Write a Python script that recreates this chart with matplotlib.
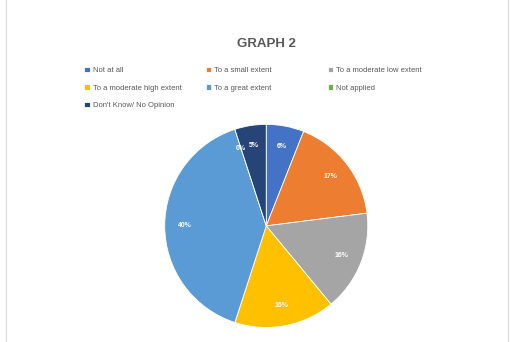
import matplotlib
matplotlib.use("Agg")
import matplotlib.pyplot as plt
from matplotlib.patches import Rectangle

categories = ["Not at all", "To a small extent", "To a moderate low extent",
              "To a moderate high extent", "To a great extent", "Not applied",
              "Don't Know/ No Opinion"]
values = [6, 17, 16, 16, 40, 0, 5]
colors = ["#4472C4", "#ED7D31", "#A5A5A5", "#FFC000", "#5B9BD5", "#70AD47", "#264478"]

plt.rcParams['font.family'] = ['Liberation Sans', 'DejaVu Sans']

fig = plt.figure(figsize=(5.18, 3.42), dpi=100)
fig.patch.set_facecolor("white")
fig.add_artist(Rectangle((0.012, -0.01), 0.968, 1.2, transform=fig.transFigure,
                         fill=False, edgecolor="#D9D9D9", linewidth=0.8))

ax = fig.add_axes([0.269, -0.033, 0.49, 0.745])
wedges, texts, autotexts = ax.pie(values, colors=colors, startangle=90, counterclock=False,
                                  autopct=lambda p: f"{p:.0f}%", pctdistance=0.8,
                                  wedgeprops=dict(edgecolor="white", linewidth=0.6),
                                  textprops=dict(color="white", fontsize=5, fontweight="bold"))
ax.set_aspect("equal")

fig.text(0.514, 0.872, "GRAPH 2", ha="center", va="center", fontsize=9.5,
         color="#595959", fontweight="bold")

# legend laid out row by row in three columns
columns = [[0, 3, 6], [1, 4], [2, 5]]
col_x = [0.163, 0.397, 0.633]
for idxs, x in zip(columns, col_x):
    leg = fig.legend([wedges[i] for i in idxs], [categories[i] for i in idxs],
                     loc="upper left", bbox_to_anchor=(x, 0.805), ncol=1, frameon=False,
                     fontsize=5.5, handlelength=0.7, handleheight=0.7, handletextpad=0.4,
                     labelspacing=1.35, borderpad=0, borderaxespad=0)
    for t in leg.get_texts():
        t.set_color("#595959")

fig.savefig("out.png", dpi=100)
